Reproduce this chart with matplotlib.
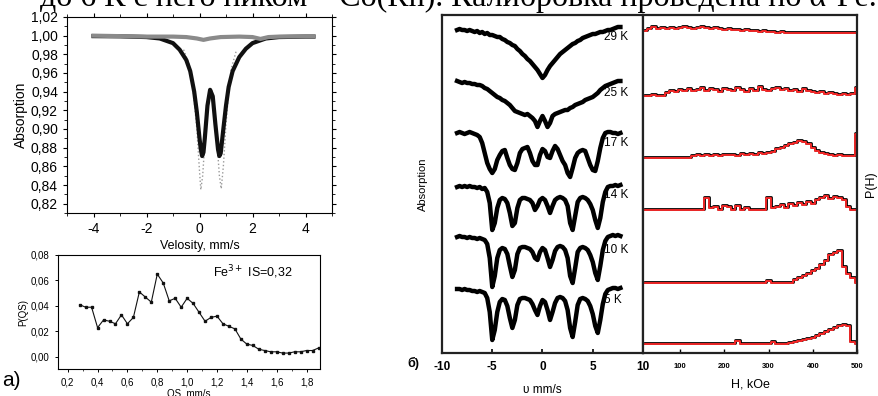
import numpy as np
import matplotlib
matplotlib.use("Agg")
import matplotlib.pyplot as plt
from matplotlib.ticker import FuncFormatter, MultipleLocator

plt.rcParams['font.family'] = ['Liberation Sans', 'DejaVu Sans']
plt.rcParams['axes.unicode_minus'] = False

# ---------------- data: panel a (top) ----------------
vel_fit = [-4.0, -3.0, -2.0, -1.5, -1.0, -0.75, -0.5, -0.35, -0.2, -0.1, 0.0, 0.05, 0.1, 0.15, 0.2,
           0.3, 0.4, 0.5, 0.6, 0.7, 0.75, 0.8, 0.9, 1.0, 1.1, 1.25, 1.5, 1.75, 2.0, 2.5, 3.0, 4.0, 4.3]
abs_fit = [0.9995, 0.9993, 0.9985, 0.997, 0.992, 0.985, 0.974, 0.962, 0.940, 0.918, 0.890, 0.878, 0.871,
           0.875, 0.890, 0.925, 0.942, 0.935, 0.905, 0.878, 0.871, 0.874, 0.900, 0.925, 0.945, 0.962,
           0.977, 0.986, 0.992, 0.997, 0.9985, 0.999, 0.999]
vel_sub = [-0.6, -0.4, -0.25, -0.1, 0.0, 0.05, 0.12, 0.2, 0.3, 0.42, 0.55, 0.65, 0.75, 0.82, 0.9, 1.0,
           1.1, 1.2, 1.4]
abs_sub = [0.985, 0.970, 0.945, 0.900, 0.855, 0.835, 0.850, 0.885, 0.925, 0.940, 0.925, 0.890, 0.850,
           0.836, 0.860, 0.905, 0.940, 0.965, 0.985]
vel_fe2 = [-4.0, -3.0, -2.0, -1.0, -0.5, -0.1, 0.15, 0.4, 0.8, 1.5, 2.0, 2.3, 2.6, 3.0, 4.0, 4.3]
abs_fe2 = [1.0, 0.9995, 0.999, 0.999, 0.9985, 0.997, 0.9955, 0.997, 0.9985, 0.999, 0.9985, 0.9965,
           0.9985, 0.999, 0.9993, 0.9993]

# ---------------- data: panel a (bottom) ----------------
qs = [0.28, 0.32, 0.36, 0.40, 0.44, 0.48, 0.52, 0.56, 0.60, 0.64, 0.68, 0.72, 0.76, 0.80, 0.84, 0.88,
      0.92, 0.96, 1.00, 1.04, 1.08, 1.12, 1.16, 1.20, 1.24, 1.28, 1.32, 1.36, 1.40, 1.44, 1.48, 1.52,
      1.56, 1.60, 1.64, 1.68, 1.72, 1.76, 1.80, 1.84, 1.88]
p_qs = [0.041, 0.039, 0.039, 0.023, 0.029, 0.028, 0.026, 0.033, 0.026, 0.031, 0.051, 0.047, 0.043,
        0.065, 0.058, 0.044, 0.046, 0.039, 0.046, 0.042, 0.035, 0.028, 0.031, 0.032, 0.026, 0.024,
        0.022, 0.014, 0.010, 0.009, 0.006, 0.005, 0.004, 0.004, 0.003, 0.003, 0.004, 0.004, 0.005,
        0.005, 0.007]

# ---------------- data: panel b (spectra) ----------------
temps = ["29 K", "25 K", "17 K", "14 K", "10 K", "5 K"]
vel = np.linspace(-8.5, 7.75, 66)
spec_29 = [0, 1, 0, 0, -1, 0, -1,
           -2, -1, -3, -2, -4, -3, -5,
           -5, -6, -7, -7, -9, -10, -12,
           -13, -15, -16, -19, -21, -24,
           -26, -29, -31, -34, -37, -40,
           -44, -48, -45, -40, -36, -33,
           -30, -27, -24, -22, -20, -18,
           -16, -14, -13, -11, -10, -8,
           -7, -6, -5, -4, -4, -3,
           -2, -2, -1, 0, 0, 1,
           2, 3, 3]
spec_25 = [2, 1, 0, 1, 0, 0, -1,
           -1, -2, -2, -3, -5, -6, -8,
           -10, -12, -14, -15, -17, -18, -20,
           -22, -25, -28, -29, -30, -31,
           -32, -31, -33, -35, -38, -44,
           -38, -33, -38, -44, -40, -33,
           -31, -30, -29, -28, -27, -27,
           -25, -24, -22, -21, -20, -19,
           -17, -16, -15, -14, -12, -10,
           -7, -5, -3, -2, -1, 0,
           1, 2, 2]
spec_17 = [0, 1, 0, -1, 0, 1, 0,
           -1, -2, -4, -10, -20, -30, -36,
           -40, -36, -27, -22, -18, -17, -25,
           -32, -36, -37, -30, -20, -16,
           -15, -14, -20, -28, -32, -32,
           -22, -16, -18, -24, -25, -18,
           -13, -16, -22, -28, -32, -40,
           -44, -35, -25, -20, -18, -17,
           -18, -25, -32, -37, -38, -28,
           -15, -5, 0, 1, 1, 0,
           0, -1, 0]
spec_14 = [1, 2, 1, 2, 1, 2, 1,
           1, 0, 1, -1, 0, -4, -15,
           -42, -35, -20, -12, -10, -11, -15,
           -25, -38, -35, -20, -12, -10,
           -10, -11, -12, -15, -22, -18,
           -12, -10, -12, -18, -25, -18,
           -12, -10, -9, -10, -12, -18,
           -35, -42, -28, -14, -10, -9,
           -10, -12, -16, -22, -32, -40,
           -30, -14, -4, 1, 2, 2,
           3, 2, 3]
spec_10 = [1, 2, 1, 1, 0, 1, 0,
           0, -1, 0, -1, -2, -6, -20,
           -49, -38, -20, -12, -10, -11, -16,
           -28, -39, -32, -16, -10, -9,
           -9, -10, -11, -14, -20, -22,
           -14, -10, -12, -20, -29, -22,
           -13, -9, -8, -9, -12, -20,
           -38, -45, -30, -14, -10, -9,
           -10, -12, -17, -24, -35, -42,
           -28, -12, -3, 1, 2, 3,
           2, 3, 2]
spec_5 = [1, 1, 0, 1, 0, 0, -1,
          -1, -2, -1, -2, -3, -8, -22,
          -50, -40, -22, -12, -9, -10, -16,
          -28, -38, -30, -15, -9, -8,
          -8, -9, -10, -14, -20, -25,
          -16, -10, -12, -20, -30, -22,
          -13, -8, -7, -8, -11, -20,
          -38, -47, -32, -15, -9, -8,
          -9, -11, -16, -24, -36, -43,
          -30, -14, -4, 0, 1, 2,
          2, 1, 2]
spectra = [spec_29, spec_25, spec_17, spec_14, spec_10, spec_5]

# ---------------- data: panel b (P(H)) ----------------
field = np.arange(20, 501, 10)
ph_29 = [2, 4, 6, 4, 5, 4, 5, 4, 5, 6,
         5, 4, 5, 6, 5, 4, 5, 4, 3, 4,
         3, 3, 2, 3, 2, 2, 1, 2, 1, 1,
         0, 1, 0, 0, 0, 0, 0, 0, 0, 0,
         0, 0, 0, 0, 0, 0, 0, 0, 0]
ph_25 = [0, 0, 1, 0, 0, 3, 5, 4, 6, 5,
         7, 5, 6, 8, 5, 7, 6, 4, 7, 6,
         5, 8, 6, 4, 7, 5, 9, 6, 5, 7,
         8, 6, 7, 5, 6, 4, 7, 5, 4, 3,
         4, 2, 3, 2, 1, 2, 1, 2, 8]
ph_17 = [0, 0, 0, 0, 0, 0, 0, 0, 0, 0,
         0, 2, 3, 2, 3, 2, 3, 2, 3, 3,
         3, 2, 4, 3, 4, 3, 5, 4, 5, 6,
         9, 10, 12, 14, 15, 17, 16, 14, 10, 7,
         5, 4, 3, 2, 3, 2, 2, 2, 24]
ph_14 = [0, 0, 0, 0, 0, 0, 0, 0, 0, 0,
         0, 0, 0, 0, 12, 2, 3, 0, 4, 3,
         0, 4, 0, 2, 0, 0, 0, 0, 12, 2,
         3, 5, 2, 6, 4, 7, 5, 8, 6, 10,
         12, 14, 11, 13, 12, 10, 3, 0, 0]
ph_10 = [0, 0, 0, 0, 0, 0, 0, 0, 0, 0,
         0, 0, 0, 0, 0, 0, 0, 0, 0, 0,
         0, 0, 0, 0, 0, 0, 0, 0, 2, 0,
         0, 0, 0, 0, 3, 5, 7, 9, 12, 14,
         18, 22, 28, 30, 32, 16, 9, 5, 0]
ph_5 = [0, 0, 0, 0, 0, 0, 0, 0, 0, 0,
        0, 0, 0, 0, 0, 0, 0, 0, 0, 0,
        0, 3, 0, 0, 0, 0, 0, 0, 0, 2,
        0, 0, 0, 1, 2, 3, 4, 5, 6, 8,
        10, 12, 14, 16, 18, 19, 18, 2, 0]
distributions = [ph_29, ph_25, ph_17, ph_14, ph_10, ph_5]

# layout helpers (pixel geometry of the scanned figure)
W, H = 879, 396
def rect(x0, y0, x1, y1):
    return [x0 / W, 1 - y1 / H, (x1 - x0) / W, (y1 - y0) / H]

spec_offsets = [323, 270, 220, 165, 115, 63]
label_offsets = [316, 260, 210, 158, 103, 53]
ph_offsets = [321, 258, 196, 144, 71, 10]

fig = plt.figure(figsize=(W / 100, H / 100), dpi=100)

comma2 = FuncFormatter(lambda v, p: f"{v:.2f}".replace('.', ','))
comma1 = FuncFormatter(lambda v, p: f"{v:.1f}".replace('.', ','))

# ---- top-left: Mössbauer spectrum ----
ax1 = fig.add_axes(rect(67, 17, 332, 213))
ax1.plot(vel_sub, abs_sub, linestyle=':', color='#9a9a9a', lw=1.0)
ax1.plot(vel_fit, abs_fit, color='#111111', lw=3.0, solid_joinstyle='round')
ax1.plot(vel_fe2, abs_fe2, color='#8a8a8a', lw=3.0)
ax1.set_xlim(-5, 5)
ax1.set_ylim(0.81, 1.02)
ax1.set_yticks(np.arange(0.82, 1.021, 0.02))
ax1.yaxis.set_major_formatter(comma2)
ax1.set_xticks([-4, -2, 0, 2, 4])
ax1.xaxis.set_major_formatter(FuncFormatter(lambda v, p: f"{v:.0f}"))
ax1.xaxis.set_minor_locator(MultipleLocator(1))
ax1.yaxis.set_minor_locator(MultipleLocator(0.01))
ax1.tick_params(axis='both', which='major', labelsize=10, length=3, width=0.8, direction='out')
ax1.tick_params(axis='both', which='minor', length=2, width=0.6, direction='out')
ax1.tick_params(top=True, right=True, which='both')
ax1.set_ylabel("Absorption", fontsize=10, labelpad=2)
ax1.set_xlabel("Velosity, mm/s", fontsize=9, labelpad=3)
for s in ax1.spines.values():
    s.set_linewidth(0.8)

# ---- bottom-left: P(QS) ----
ax2 = fig.add_axes(rect(58, 255, 320, 369))
ax2.plot(qs, p_qs, color='#111111', lw=0.8, marker='s', markersize=1.6)
ax2.set_xlim(0.135, 1.89)
ax2.set_ylim(-0.0095, 0.08)
ax2.set_yticks([0.0, 0.02, 0.04, 0.06, 0.08])
ax2.yaxis.set_major_formatter(comma2)
ax2.set_xticks([0.2, 0.4, 0.6, 0.8, 1.0, 1.2, 1.4, 1.6, 1.8])
ax2.xaxis.set_major_formatter(comma1)
ax2.xaxis.set_minor_locator(MultipleLocator(0.1))
ax2.tick_params(axis='both', which='major', labelsize=7, length=2.5, width=0.7, direction='out')
ax2.tick_params(axis='both', which='minor', length=1.5, width=0.5, direction='out')
ax2.set_ylabel("P(QS)", fontsize=7, labelpad=2)
ax2.text(0.59, 0.85, "Fe$^{3+}$ IS=0,32", transform=ax2.transAxes, fontsize=9, va='center')
for s in ax2.spines.values():
    s.set_linewidth(0.8)
fig.text(189 / W, 1 - 394 / H, "QS, mm/s", fontsize=7, ha='center', va='center')
fig.text(2 / W, 1 - 381 / H, "a)", fontsize=15, ha='left', va='center')

# ---- right: spectra ----
ax3 = fig.add_axes(rect(442, 15, 643, 353))
for vals, off in zip(spectra, spec_offsets):
    ax3.plot(vel, off + np.array(vals), color='black', lw=3.2, solid_joinstyle='round')
for lab, off in zip(temps, label_offsets):
    ax3.text(6.1, off, lab, fontsize=8.5, ha='left', va='center', color='black')
ax3.set_xlim(-10, 10)
ax3.set_ylim(0, 338)
ax3.set_yticks([])
ax3.set_xticks([-10, -5, 0, 5, 10])
ax3.tick_params(axis='x', labelsize=8.5, length=3, width=1.2, direction='in', pad=6)
for t in ax3.get_xticklabels():
    t.set_fontweight('bold')
ax3.set_ylabel("Absorption", fontsize=8, labelpad=10)
ax3.set_xlabel("υ mm/s", fontsize=8.5, labelpad=8)
for s in ax3.spines.values():
    s.set_linewidth(1.6)
    s.set_color('#222222')

# ---- right: P(H) ----
ax4 = fig.add_axes(rect(643, 15, 857, 353))
for vals, off in zip(distributions, ph_offsets):
    y = off + np.array(vals)
    ax4.plot(field, y, drawstyle='steps-mid', color='black', lw=2.0)
    ax4.plot(field, y - 1, drawstyle='steps-mid', color='#ff2a2a', lw=1.3)
ax4.set_xlim(16, 500)
ax4.set_ylim(0, 338)
ax4.set_yticks([])
ax4.set_xticks([100, 200, 300, 400, 500])
ax4.tick_params(axis='x', labelsize=5.5, length=3, width=1.0, direction='in', pad=7)
for t in ax4.get_xticklabels():
    t.set_fontweight('bold')
ax4.yaxis.set_label_position('right')
ax4.set_ylabel("P(H)", fontsize=9, labelpad=6)
ax4.set_xlabel("H, kOe", fontsize=9, labelpad=6)
for s in ax4.spines.values():
    s.set_linewidth(1.6)
    s.set_color('#222222')

fig.text(407 / W, 1 - 363 / H, "б)", fontsize=9, ha='left', va='center', fontweight='bold')

# cropped caption line at the top of the scan
fig.text(877 / W, 1 - 6 / H, "до 6 К с него пиком – Co(Rh). Калибровка проведена по α-Fe.",
         family=['Liberation Serif', 'DejaVu Serif'], fontsize=23, ha='right', va='baseline')

fig.savefig("out.png", dpi=100)
